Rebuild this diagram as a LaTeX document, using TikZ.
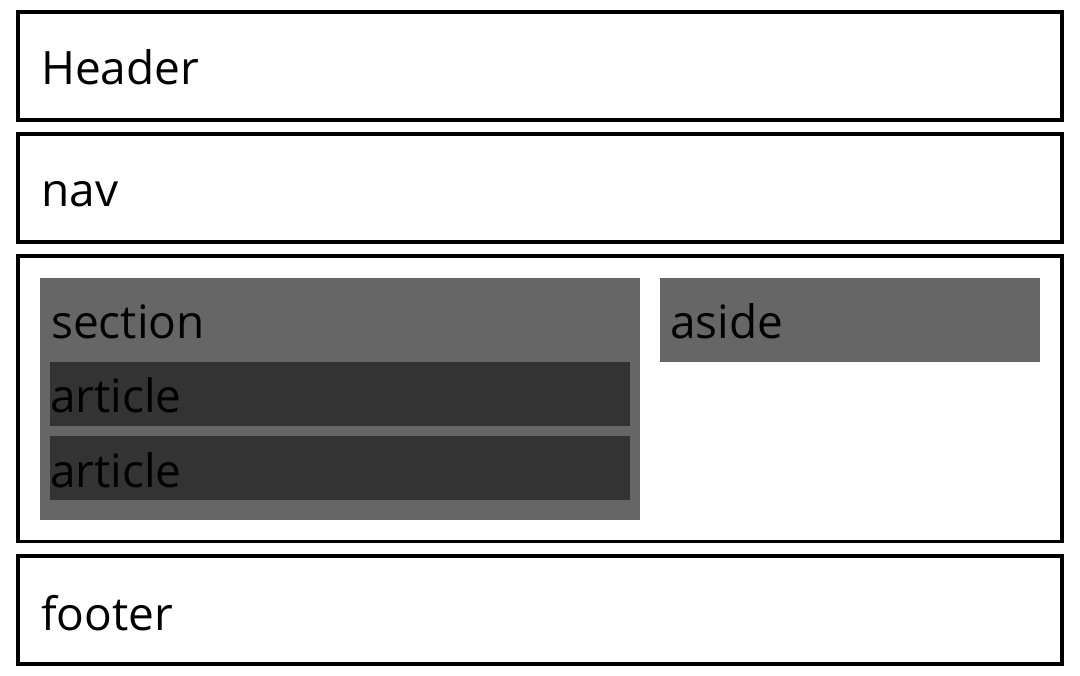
\documentclass[tikz,border=0pt]{standalone}
\usepackage{fontspec}
\setmainfont{Open Sans}
\definecolor{midgray}{HTML}{666666}
\definecolor{darkgray}{HTML}{333333}
\begin{document}
\begin{tikzpicture}[x=1pt,y=-1pt,
  frame/.style={draw=black,line width=3.6pt,fill=white,inner sep=0pt,outer sep=0pt,anchor=north west},
  block/.style={fill=#1,inner sep=0pt,outer sep=0pt,anchor=north west},
  lbl/.style={anchor=base west,inner sep=0pt,text=black,font=\fontsize{46}{55}\selectfont}]
  \useasboundingbox[fill=white] (0,0) rectangle (1080,676);
  % outer page regions
  \node[frame,minimum width=1044pt,minimum height=108pt] (header) at (18,12) {};
  \node[frame,minimum width=1044pt,minimum height=108pt] (nav) at (18,134) {};
  \node[frame,minimum width=1044pt,minimum height=285.5pt] (main) at (18,256) {};
  \node[frame,minimum width=1044pt,minimum height=108pt] (footer) at (18,556) {};
  % content inside main
  \node[block=midgray,minimum width=600pt,minimum height=242pt] (section) at (40,278) {};
  \node[block=darkgray,minimum width=580pt,minimum height=64pt] (article1) at (50,362) {};
  \node[block=darkgray,minimum width=580pt,minimum height=64pt] (article2) at (50,436) {};
  \node[block=midgray,minimum width=380pt,minimum height=84pt] (aside) at (660,278) {};
  % labels
  \node[lbl] (tHeader) at (41,85) {Header};
  \node[lbl] (tNav) at (41,207) {nav};
  \node[lbl] (tSection) at (51,339) {section};
  \node[lbl] (tArticle1) at (50,413) {article};
  \node[lbl] (tArticle2) at (50,487) {article};
  \node[lbl] (tAside) at (670,339) {aside};
  \node[lbl] (tFooter) at (41,630) {footer};
\end{tikzpicture}
\end{document}
